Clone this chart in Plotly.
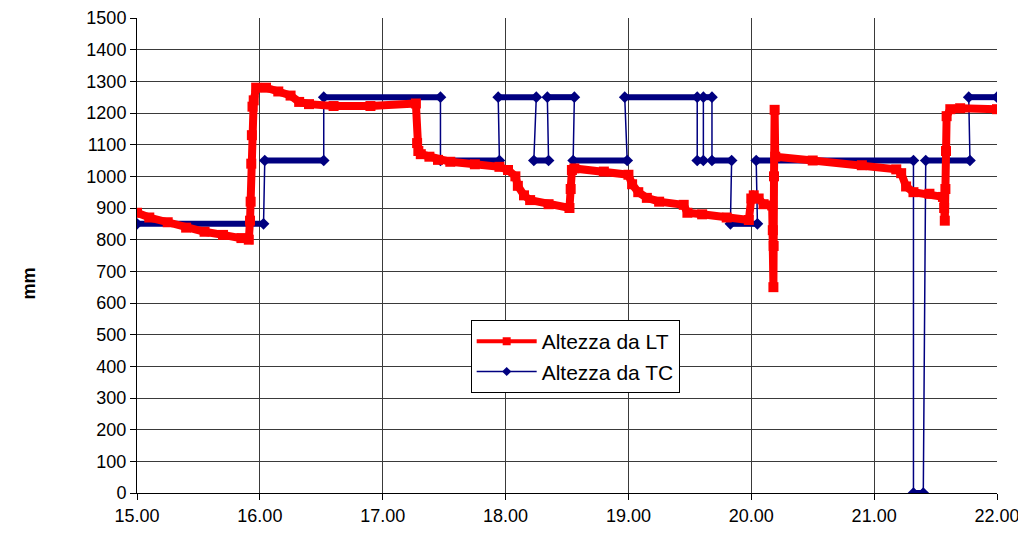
import plotly.graph_objects as go

# Altezza da LT (mm) – tempo in ore
lt_time = [15.00, 15.10, 15.25, 15.40, 15.55, 15.70, 15.85, 15.91, 15.92, 15.925, 15.93, 15.935,
           15.94, 15.95, 15.97, 16.05, 16.15, 16.25, 16.32, 16.40, 16.60, 16.90, 17.27, 17.28,
           17.29, 17.31, 17.38, 17.45, 17.55, 17.75, 17.95, 18.02, 18.08, 18.10, 18.15, 18.20,
           18.35, 18.52, 18.53, 18.54, 18.56, 18.80, 19.00, 19.03, 19.08, 19.15, 19.25, 19.45,
           19.48, 19.60, 19.80, 19.98, 20.00, 20.02, 20.06, 20.10, 20.17, 20.175, 20.18, 20.182,
           20.185, 20.19, 20.195, 20.50, 20.90, 21.18, 21.22, 21.26, 21.32, 21.45, 21.56, 21.57,
           21.575, 21.58, 21.585, 21.59, 21.62, 21.70, 22.00]
lt_mm = [885, 870, 855, 838, 825, 815, 805, 800, 860, 920, 1040, 1130,
         1220, 1240, 1280, 1280, 1268, 1255, 1235, 1228, 1222, 1222, 1230, 1105,
         1080, 1070, 1062, 1052, 1046, 1038, 1030, 1020, 1000, 970, 940, 925,
         912, 900, 960, 1020, 1025, 1015, 1005, 975, 950, 932, 920, 910,
         885, 880, 870, 862, 930, 940, 930, 912, 908, 830, 650, 780,
         1000, 1210, 1062, 1050, 1035, 1022, 1010, 968, 950, 945, 935, 900,
         860, 960, 1080, 1190, 1212, 1215, 1212]

# Altezza da TC (mm) – livelli a gradino
tc_start = [15.00, 16.04, 16.52, 17.47, 17.94, 18.23, 18.34, 18.55, 18.97, 19.56, 19.61,
            19.68, 19.83, 20.04, 21.32, 21.42, 21.77]
tc_end = [16.03, 16.52, 17.47, 17.95, 18.25, 18.35, 18.56, 18.99, 19.56, 19.61, 19.68,
          19.84, 20.05, 21.32, 21.40, 21.78, 22.00]
tc_level = [850, 1050, 1250, 1050, 1250, 1050, 1250, 1050, 1250, 1050, 1250,
            1050, 850, 1050, 0, 1050, 1250]

x_ticks = [15, 16, 17, 18, 19, 20, 21, 22]
y_ticks = list(range(0, 1600, 100))

NAVY = '#000080'
RED = '#FF0000'
FONT = 'Liberation Sans, Arial, sans-serif'

tc_line_x, tc_line_y = [], []
tc_band_x, tc_band_y = [], []
for s, e, lv in zip(tc_start, tc_end, tc_level):
    tc_line_x += [s, e]
    tc_line_y += [lv, lv]
    tc_band_x += [s, e, None]
    tc_band_y += [lv, lv, None]

fig = go.Figure()

# thin connecting line of TC
fig.add_trace(go.Scatter(
    x=tc_line_x, y=tc_line_y, mode='lines',
    line=dict(color=NAVY, width=1.5), showlegend=False, hoverinfo='skip'))
# dense diamond band for the TC steps
fig.add_trace(go.Scatter(
    x=tc_band_x, y=tc_band_y, mode='lines+markers',
    line=dict(color=NAVY, width=6),
    marker=dict(symbol='diamond', size=9, color=NAVY),
    showlegend=False, hoverinfo='skip'))

# LT series
fig.add_trace(go.Scatter(
    x=lt_time, y=lt_mm, mode='lines+markers',
    line=dict(color=RED, width=8),
    marker=dict(symbol='square', size=10, color=RED),
    showlegend=False))
# legend entries
fig.add_trace(go.Scatter(
    x=[None], y=[None], mode='lines+markers', name='Altezza da LT',
    line=dict(color=RED, width=4), marker=dict(symbol='square', size=8, color=RED)))
fig.add_trace(go.Scatter(
    x=[None], y=[None], mode='lines+markers', name='Altezza da TC',
    line=dict(color=NAVY, width=1.5), marker=dict(symbol='diamond', size=7, color=NAVY)))

axis_common = dict(
    showgrid=True, gridcolor='#3a3a3a', gridwidth=1,
    showline=True, linecolor='black', linewidth=1,
    ticks='outside', ticklen=6, tickcolor='black', automargin=False,
    zeroline=False, tickfont=dict(family=FONT, size=18, color='black'),
)

# the page body adds an 8px offset, so the figure is sized to compensate
fig.update_layout(
    width=1018, height=529,
    margin=dict(l=129, r=29, t=10, b=44),
    paper_bgcolor='white', plot_bgcolor='white',
    font=dict(family=FONT, size=18, color='black'),
    xaxis=dict(range=[15, 22], tickvals=x_ticks, tickformat='.2f', **axis_common),
    yaxis=dict(range=[0, 1500], tickvals=y_ticks, **axis_common),
    legend=dict(x=0.388, y=0.364, xanchor='left', yanchor='top',
                bgcolor='white', bordercolor='black', borderwidth=1,
                font=dict(family=FONT, size=21, color='black'),
                itemwidth=60, tracegroupgap=4),
    annotations=[dict(text='<b>mm</b>', xref='paper', yref='paper',
                      x=-0.14, y=0.44, showarrow=False, textangle=-90,
                      font=dict(family=FONT, size=18, color='black'))],
)

fig.write_html("out.html")
